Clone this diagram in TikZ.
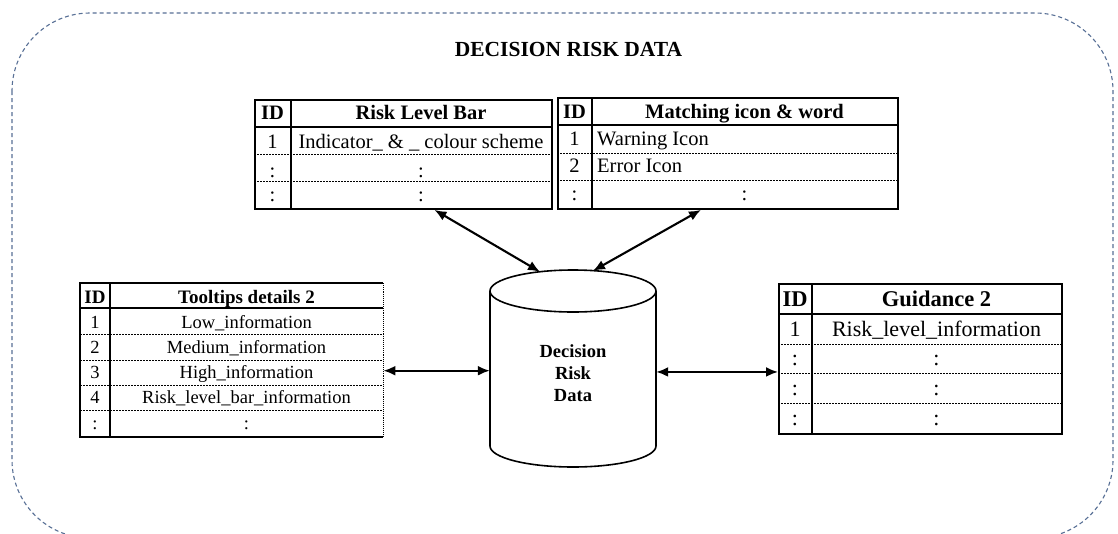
\documentclass[tikz,border=0pt]{standalone}
\usepackage{fontspec}
\setmainfont{Liberation Serif}
\usetikzlibrary{arrows.meta}
\definecolor{frameblue}{RGB}{88,112,150}
\begin{document}
\begin{tikzpicture}[x=1pt,y=-1pt,
  tbl/.style={inner sep=0pt, anchor=north west},
  border/.style={line width=1.9pt},
  vline/.style={line width=2.2pt},
  hline/.style={line width=1.5pt},
  rowsep/.style={line width=1pt, dash pattern=on 2pt off 1pt},
  txt/.style={inner sep=0pt, anchor=base},
  fa/.style={font=\fontsize{20.5}{24}\selectfont},
  fab/.style={font=\fontsize{20.5}{24}\selectfont\bfseries},
  fc/.style={font=\fontsize{18.5}{22}\selectfont},
  fcb/.style={font=\fontsize{19}{22}\selectfont\bfseries},
  fd/.style={font=\fontsize{22}{26}\selectfont},
  fdb/.style={font=\fontsize{22.5}{26}\selectfont\bfseries},
  arr/.style={line width=2.1pt, {Latex[length=12pt,width=10pt]}-{Latex[length=12pt,width=10pt]}},
]
\useasboundingbox (0,0) rectangle (1118,533);
\fill[white] (0,0) rectangle (1118,533);

% dashed outer frame
\begin{scope}
\clip (0,0) rectangle (1118,533);
\draw[frameblue, line width=1.1pt, dash pattern=on 4pt off 3pt, rounded corners=78pt] (12,13) rectangle (1113,538);
\end{scope}

\node[txt, font=\fontsize{21.5}{26}\selectfont\bfseries] (title) at (568.5,56.7) {DECISION RISK DATA};

% ---------- Table 1: Risk Level Bar ----------
\node[tbl, draw, border, minimum width=297pt, minimum height=109pt] (t1) at (254,99) {};
\draw[vline] (291,99) -- (291,208);
\draw[hline] (254,127) -- (551,127);
\draw[rowsep] (254,154) -- (551,154);
\draw[rowsep] (254,181) -- (551,181);
\node[txt, fab] (t1h1) at (272.5,119.3) {ID};
\node[txt, fab] (t1h2) at (421,119.3) {Risk Level Bar};
\node[txt, fa] (t1a1) at (272.5,148.3) {1};
\node[txt, fa] (t1a2) at (421,148.3) {Indicator\_ \& \_ colour scheme};
\node[txt, fa] (t1b1) at (272.5,177.5) {:};
\node[txt, fa] (t1b2) at (421,177.5) {:};
\node[txt, fa] (t1c1) at (272.5,201.7) {:};
\node[txt, fa] (t1c2) at (421,201.7) {:};

% ---------- Table 2: Matching icon & word ----------
\node[tbl, draw, border, minimum width=340pt, minimum height=111pt] (t2) at (557,97) {};
\draw[vline] (592,97) -- (592,208);
\draw[hline] (557,125) -- (897,125);
\draw[rowsep] (557,153) -- (897,153);
\draw[rowsep] (557,180) -- (897,180);
\node[txt, fab] (t2h1) at (574.5,118.3) {ID};
\node[txt, fab] (t2h2) at (744.5,118.3) {Matching icon \& word};
\node[txt, fa] (t2a1) at (574.5,145) {1};
\node[txt, fa, anchor=base west] (t2a2) at (597,145) {Warning Icon};
\node[txt, fa] (t2b1) at (574.5,172.7) {2};
\node[txt, fa, anchor=base west] (t2b2) at (597,172.7) {Error Icon};
\node[txt, fa] (t2c1) at (574.5,200) {:};
\node[txt, fa] (t2c2) at (744.5,200) {:};

% ---------- Table 3: Tooltips details 2 ----------
\node[tbl, minimum width=303pt, minimum height=154pt] (t3) at (80,283) {};
\draw[border] (t3.north east) -- (t3.north west) -- (t3.south west) -- (t3.south east);
\draw[line width=1.1pt, densely dotted] (t3.north east) -- (t3.south east);
\draw[vline] (110,283) -- (110,437);
\draw[hline] (80,308) -- (383,308);
\draw[rowsep] (80,334) -- (383,334);
\draw[rowsep] (80,360) -- (383,360);
\draw[rowsep] (80,385) -- (383,385);
\draw[rowsep] (80,410.5) -- (383,410.5);
\node[txt, fcb] (t3h1) at (95,303.3) {ID};
\node[txt, fcb] (t3h2) at (246.5,303.3) {Tooltips details 2};
\node[txt, fc] (t3a1) at (95,328.3) {1};
\node[txt, fc] (t3a2) at (246.5,328.3) {Low\_information};
\node[txt, fc] (t3b1) at (95,353.3) {2};
\node[txt, fc] (t3b2) at (246.5,353.3) {Medium\_information};
\node[txt, fc] (t3c1) at (95,378.3) {3};
\node[txt, fc] (t3c2) at (246.5,378.3) {High\_information};
\node[txt, fc] (t3d1) at (95,403.3) {4};
\node[txt, fc] (t3d2) at (246.5,403.3) {Risk\_level\_bar\_information};
\node[txt, fc] (t3e1) at (95,429) {:};
\node[txt, fc] (t3e2) at (246.5,429) {:};

% ---------- Table 4: Guidance 2 ----------
\node[tbl, draw, border, minimum width=283pt, minimum height=150pt] (t4) at (778,283) {};
\draw[vline] (812,283) -- (812,433);
\draw[hline] (778,314) -- (1061,314);
\draw[rowsep] (778,344) -- (1061,344);
\draw[rowsep] (778,373.5) -- (1061,373.5);
\draw[rowsep] (778,403) -- (1061,403);
\node[txt, fdb] (t4h1) at (795,306.7) {ID};
\node[txt, fdb] (t4h2) at (936.5,306.7) {Guidance 2};
\node[txt, fd] (t4a1) at (795,336.7) {1};
\node[txt, fd] (t4a2) at (936.5,336.7) {Risk\_level\_information};
\node[txt, fd] (t4b1) at (795,365.7) {:};
\node[txt, fd] (t4b2) at (936.5,365.7) {:};
\node[txt, fd] (t4c1) at (795,395) {:};
\node[txt, fd] (t4c2) at (936.5,395) {:};
\node[txt, fd] (t4d1) at (795,425) {:};
\node[txt, fd] (t4d2) at (936.5,425) {:};

% ---------- Cylinder ----------
\node[inner sep=0pt, minimum width=166pt, minimum height=197pt] (db) at (573,368.5) {};
\draw[line width=1.6pt, fill=white] (490,291) -- (490,446) arc[start angle=180, end angle=0, x radius=83, y radius=21] -- (656,291);
\draw[line width=1.6pt] (573,291) ellipse [x radius=83, y radius=21];
\node[align=center, inner sep=0pt, font=\fontsize{18.5}{22}\selectfont\bfseries, anchor=base] (dbl) at (573,401.7) {Decision\\Risk\\Data};

% ---------- Connectors ----------
\draw[arr] ([xshift=31pt]t1.south) -- ([xshift=-33pt,yshift=-2pt]db.north);
\draw[arr] ([xshift=-27pt]t2.south) -- ([xshift=20pt,yshift=-1pt]db.north);
\draw[arr] ([yshift=-10.5pt]t3.east) -- ([yshift=-10.5pt]t3.east -| db.west);
\draw[arr] ([yshift=-13pt]t4.west) -- ([yshift=-13pt]t4.west -| db.east);
\end{tikzpicture}
\end{document}
